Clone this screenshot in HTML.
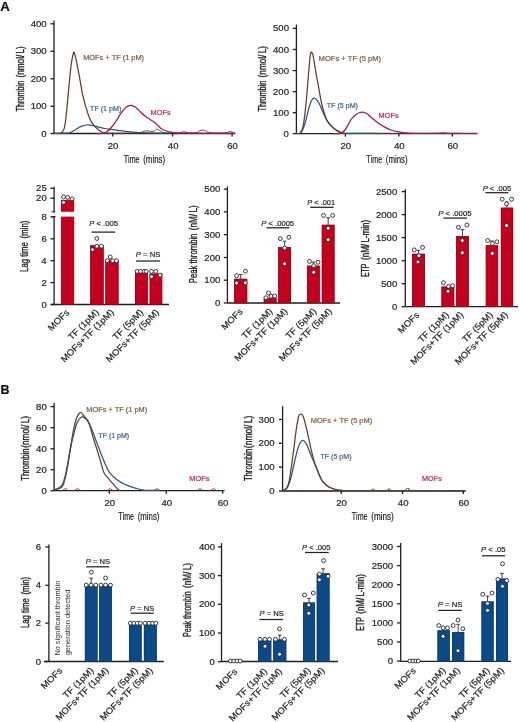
<!DOCTYPE html>
<html><head><meta charset="utf-8"><style>
html,body{margin:0;padding:0;background:#fff;}
svg{display:block;font-family:"Liberation Sans", sans-serif;font-kerning:none;will-change:transform;}
text{font-kerning:none;}
</style></head><body>
<svg width="520" height="722" viewBox="0 0 520 722">
<rect width="520" height="722" fill="#fff"/>
<text x="0.37" y="11.2" font-size="12.2" textLength="9.58" lengthAdjust="spacingAndGlyphs" fill="#111" stroke="#111" stroke-width="0.2" font-weight="bold">A</text>
<text x="0.47" y="393.8" font-size="12.4" textLength="9" lengthAdjust="spacingAndGlyphs" fill="#111" stroke="#111" stroke-width="0.2" font-weight="bold">B</text>
<line x1="54" y1="20.6" x2="54" y2="133.5" stroke="#1e1e1e" stroke-width="1.3"/>
<line x1="50.4" y1="23.8" x2="54" y2="23.8" stroke="#1e1e1e" stroke-width="1.3"/>
<text x="30.67" y="26.83" font-size="8.8" textLength="16" lengthAdjust="spacingAndGlyphs" fill="#231f20" stroke="#231f20" stroke-width="0.2">400</text>
<line x1="50.4" y1="51.3" x2="54" y2="51.3" stroke="#1e1e1e" stroke-width="1.3"/>
<text x="30.67" y="54.33" font-size="8.8" textLength="16" lengthAdjust="spacingAndGlyphs" fill="#231f20" stroke="#231f20" stroke-width="0.2">300</text>
<line x1="50.4" y1="78.8" x2="54" y2="78.8" stroke="#1e1e1e" stroke-width="1.3"/>
<text x="30.67" y="81.83" font-size="8.8" textLength="16" lengthAdjust="spacingAndGlyphs" fill="#231f20" stroke="#231f20" stroke-width="0.2">200</text>
<line x1="50.4" y1="106.3" x2="54" y2="106.3" stroke="#1e1e1e" stroke-width="1.3"/>
<text x="30.67" y="109.33" font-size="8.8" textLength="16" lengthAdjust="spacingAndGlyphs" fill="#231f20" stroke="#231f20" stroke-width="0.2">100</text>
<line x1="50.4" y1="133.5" x2="54" y2="133.5" stroke="#1e1e1e" stroke-width="1.3"/>
<text x="41.34" y="136.53" font-size="8.8" textLength="5.33" lengthAdjust="spacingAndGlyphs" fill="#231f20" stroke="#231f20" stroke-width="0.2">0</text>
<line x1="53.45" y1="133.5" x2="235" y2="133.5" stroke="#1e1e1e" stroke-width="1.3"/>
<line x1="112.7" y1="133.5" x2="112.7" y2="136.5" stroke="#1e1e1e" stroke-width="1.3"/>
<text x="107.81" y="148.8" font-size="8.8" textLength="10.67" lengthAdjust="spacingAndGlyphs" fill="#231f20" stroke="#231f20" stroke-width="0.2">20</text>
<line x1="172.6" y1="133.5" x2="172.6" y2="136.5" stroke="#1e1e1e" stroke-width="1.3"/>
<text x="167.84" y="148.8" font-size="8.8" textLength="10.67" lengthAdjust="spacingAndGlyphs" fill="#231f20" stroke="#231f20" stroke-width="0.2">40</text>
<line x1="232.1" y1="133.5" x2="232.1" y2="136.5" stroke="#1e1e1e" stroke-width="1.3"/>
<text x="227.21" y="148.8" font-size="8.8" textLength="10.67" lengthAdjust="spacingAndGlyphs" fill="#231f20" stroke="#231f20" stroke-width="0.2">60</text>
<text x="123.74" y="162.6" font-size="10" textLength="15.77" lengthAdjust="spacingAndGlyphs" fill="#231f20" stroke="#231f20" stroke-width="0.2">Time</text>
<text x="143.21" y="162.6" font-size="10" textLength="21.88" lengthAdjust="spacingAndGlyphs" fill="#231f20" stroke="#231f20" stroke-width="0.2">(mins)</text>
<text transform="translate(23.6 111.46) rotate(-90)" x="0" y="0" font-size="10.4" textLength="30.63" lengthAdjust="spacingAndGlyphs" fill="#231f20" stroke="#231f20" stroke-width="0.38">Thrombin</text>
<text transform="translate(23.6 77.4) rotate(-90)" x="0" y="0" font-size="10.4" textLength="31.21" lengthAdjust="spacingAndGlyphs" fill="#231f20" stroke="#231f20" stroke-width="0.38">(nmol/ L)</text>
<path d="M104 133.2 C106.67 133.2 114.67 133.23 120 133.2 C125.33 133.17 132.5 133.13 136 133 C139.5 132.87 139.67 132.7 141 132.4 C142.33 132.1 142.83 131.45 144 131.2 C145.17 130.95 146.83 130.83 148 130.9 C149.17 130.97 150 131.55 151 131.6 C152 131.65 153 131.6 154 131.2 C155 130.8 156 129.3 157 129.2 C158 129.1 158.83 130.03 160 130.6 C161.17 131.17 162 132.2 164 132.6 C166 133 169.33 132.97 172 133 C174.67 133.03 178 133.03 180 132.8 C182 132.57 182.67 131.6 184 131.6 C185.33 131.6 186 132.6 188 132.8 C190 133 194 133.17 196 132.8 C198 132.43 198.83 131.03 200 130.6 C201.17 130.17 202 130.17 203 130.2 C204 130.23 205 130.4 206 130.8 C207 131.2 207 132.23 209 132.6 C211 132.97 215.17 132.97 218 133 C220.83 133.03 224 133.05 226 132.8 C228 132.55 228.67 131.5 230 131.5 C231.33 131.5 233.33 132.58 234 132.8" fill="none" stroke="#5e4128" stroke-width="0.9" stroke-linejoin="round" stroke-linecap="round"/>
<path d="M54 133.4 C55.33 133.37 59.5 133.27 62 133.2 C64.5 133.13 66.98 133.45 69 133 C71.02 132.55 72.18 131.57 74.1 130.5 C76.02 129.43 78.37 127.52 80.5 126.6 C82.63 125.68 84.77 125.17 86.9 125 C89.03 124.83 91.18 125.22 93.3 125.6 C95.42 125.98 97.7 126.82 99.6 127.3 C101.5 127.78 102.72 128.15 104.7 128.5 C106.68 128.85 108.95 129.05 111.5 129.4 C114.05 129.75 116.92 130.2 120 130.6 C123.08 131 126.67 131.47 130 131.8 C133.33 132.13 136.67 132.4 140 132.6 C143.33 132.8 145.83 132.9 150 133 C154.17 133.1 162.5 133.17 165 133.2" fill="none" stroke="#2c527c" stroke-width="1.25" stroke-linejoin="round" stroke-linecap="round"/>
<path d="M60.7 133.2 C61.23 132.57 63.05 131.77 63.9 129.4 C64.75 127.03 65.15 124.13 65.8 119 C66.45 113.87 67.15 105.4 67.8 98.6 C68.45 91.8 69.12 83.95 69.7 78.2 C70.28 72.45 70.77 67.93 71.3 64.1 C71.83 60.27 72.47 57.18 72.9 55.2 C73.33 53.22 73.52 52.1 73.9 52.2 C74.28 52.3 74.63 53.6 75.2 55.8 C75.77 58 76.52 61.47 77.3 65.4 C78.08 69.33 79.05 74.72 79.9 79.4 C80.75 84.08 81.45 89.03 82.4 93.5 C83.35 97.97 84.43 102.17 85.6 106.2 C86.77 110.23 88.12 114.62 89.4 117.7 C90.68 120.78 91.8 122.68 93.3 124.7 C94.8 126.72 96.7 128.42 98.4 129.8 C100.1 131.18 102.65 132.47 103.5 133" fill="none" stroke="#5e4128" stroke-width="1.25" stroke-linejoin="round" stroke-linecap="round"/>
<path d="M97 133.5 C97.5 133.5 98.92 133.57 100 133.5 C101.08 133.43 102.5 133.32 103.5 133.1 C104.5 132.88 104.92 132.88 106 132.2 C107.08 131.52 108.33 130.82 110 129 C111.67 127.18 114.17 123.93 116 121.3 C117.83 118.67 119.33 115.55 121 113.2 C122.67 110.85 124.33 108.5 126 107.2 C127.67 105.9 129.42 105.4 131 105.4 C132.58 105.4 133.87 106.05 135.5 107.2 C137.13 108.35 139.22 110.83 140.8 112.3 C142.38 113.77 143.47 114.82 145 116 C146.53 117.18 148.33 118.27 150 119.4 C151.67 120.53 153.67 121.78 155 122.8 C156.33 123.82 157 124.55 158 125.5 C159 126.45 159.83 127.67 161 128.5 C162.17 129.33 163.67 129.95 165 130.5 C166.33 131.05 167.33 131.42 169 131.8 C170.67 132.18 172.33 132.57 175 132.8 C177.67 133.03 175 133.12 185 133.2 C195 133.28 226.67 133.28 235 133.3" fill="none" stroke="#a3173d" stroke-width="1.25" stroke-linejoin="round" stroke-linecap="round"/>
<text x="83.19" y="60.3" font-size="7.4" textLength="60.86" lengthAdjust="spacingAndGlyphs" fill="#7a5b3c" stroke="#7a5b3c" stroke-width="0.2">MOFs + TF (1 pM)</text>
<text x="90.04" y="110.7" font-size="7.4" textLength="31.3" lengthAdjust="spacingAndGlyphs" fill="#3b5f8a" stroke="#3b5f8a" stroke-width="0.2">TF (1 pM)</text>
<text x="150.6" y="115" font-size="7.4" textLength="19.97" lengthAdjust="spacingAndGlyphs" fill="#b3284b" stroke="#b3284b" stroke-width="0.2">MOFs</text>
<line x1="296.4" y1="24.6" x2="296.4" y2="133.6" stroke="#1e1e1e" stroke-width="1.3"/>
<line x1="292.8" y1="28.4" x2="296.4" y2="28.4" stroke="#1e1e1e" stroke-width="1.3"/>
<text x="272.97" y="31.43" font-size="8.8" textLength="16" lengthAdjust="spacingAndGlyphs" fill="#231f20" stroke="#231f20" stroke-width="0.2">500</text>
<line x1="292.8" y1="49.5" x2="296.4" y2="49.5" stroke="#1e1e1e" stroke-width="1.3"/>
<text x="272.97" y="52.53" font-size="8.8" textLength="16" lengthAdjust="spacingAndGlyphs" fill="#231f20" stroke="#231f20" stroke-width="0.2">400</text>
<line x1="292.8" y1="70.6" x2="296.4" y2="70.6" stroke="#1e1e1e" stroke-width="1.3"/>
<text x="272.97" y="73.63" font-size="8.8" textLength="16" lengthAdjust="spacingAndGlyphs" fill="#231f20" stroke="#231f20" stroke-width="0.2">300</text>
<line x1="292.8" y1="91.7" x2="296.4" y2="91.7" stroke="#1e1e1e" stroke-width="1.3"/>
<text x="272.97" y="94.73" font-size="8.8" textLength="16" lengthAdjust="spacingAndGlyphs" fill="#231f20" stroke="#231f20" stroke-width="0.2">200</text>
<line x1="292.8" y1="112.7" x2="296.4" y2="112.7" stroke="#1e1e1e" stroke-width="1.3"/>
<text x="272.97" y="115.73" font-size="8.8" textLength="16" lengthAdjust="spacingAndGlyphs" fill="#231f20" stroke="#231f20" stroke-width="0.2">100</text>
<line x1="292.8" y1="133.6" x2="296.4" y2="133.6" stroke="#1e1e1e" stroke-width="1.3"/>
<text x="283.64" y="136.63" font-size="8.8" textLength="5.33" lengthAdjust="spacingAndGlyphs" fill="#231f20" stroke="#231f20" stroke-width="0.2">0</text>
<line x1="295.85" y1="133.6" x2="477.3" y2="133.6" stroke="#1e1e1e" stroke-width="1.3"/>
<line x1="345.4" y1="133.6" x2="345.4" y2="136.6" stroke="#1e1e1e" stroke-width="1.3"/>
<text x="340.51" y="148.9" font-size="8.8" textLength="10.67" lengthAdjust="spacingAndGlyphs" fill="#231f20" stroke="#231f20" stroke-width="0.2">20</text>
<line x1="398.8" y1="133.6" x2="398.8" y2="136.6" stroke="#1e1e1e" stroke-width="1.3"/>
<text x="394.04" y="148.9" font-size="8.8" textLength="10.67" lengthAdjust="spacingAndGlyphs" fill="#231f20" stroke="#231f20" stroke-width="0.2">40</text>
<line x1="452.4" y1="133.6" x2="452.4" y2="136.6" stroke="#1e1e1e" stroke-width="1.3"/>
<text x="447.51" y="148.9" font-size="8.8" textLength="10.67" lengthAdjust="spacingAndGlyphs" fill="#231f20" stroke="#231f20" stroke-width="0.2">60</text>
<text x="366.34" y="162.8" font-size="10" textLength="15.77" lengthAdjust="spacingAndGlyphs" fill="#231f20" stroke="#231f20" stroke-width="0.2">Time</text>
<text x="385.81" y="162.8" font-size="10" textLength="21.77" lengthAdjust="spacingAndGlyphs" fill="#231f20" stroke="#231f20" stroke-width="0.2">(mins)</text>
<text transform="translate(265.5 111.56) rotate(-90)" x="0" y="0" font-size="10.4" textLength="30.74" lengthAdjust="spacingAndGlyphs" fill="#231f20" stroke="#231f20" stroke-width="0.38">Thrombin</text>
<text transform="translate(265.5 77.41) rotate(-90)" x="0" y="0" font-size="10.4" textLength="31.42" lengthAdjust="spacingAndGlyphs" fill="#231f20" stroke="#231f20" stroke-width="0.38">(nmol/ L)</text>
<path d="M340 133.4 C343.33 133.37 350 133.22 360 133.2 C370 133.18 390 133.27 400 133.3 C410 133.33 413.33 133.45 420 133.4 C426.67 133.35 436 133.18 440 133 C444 132.82 442.83 132.27 444 132.3 C445.17 132.33 444.33 133.03 447 133.2 C449.67 133.37 457.83 133.28 460 133.3" fill="none" stroke="#5e4128" stroke-width="0.9" stroke-linejoin="round" stroke-linecap="round"/>
<path d="M296.4 133.5 C297.12 133.42 299.45 134.15 300.7 133 C301.95 131.85 302.93 129.15 303.9 126.6 C304.87 124.05 305.65 120.88 306.5 117.7 C307.35 114.52 308.15 110.37 309 107.5 C309.85 104.63 310.75 102.05 311.6 100.5 C312.45 98.95 313.25 98.32 314.1 98.2 C314.95 98.08 315.73 98.67 316.7 99.8 C317.67 100.93 318.83 102.87 319.9 105 C320.97 107.13 321.93 110.05 323.1 112.6 C324.27 115.15 325.42 117.97 326.9 120.3 C328.38 122.63 330.3 124.9 332 126.6 C333.7 128.3 335.4 129.47 337.1 130.5 C338.8 131.53 340.05 132.32 342.2 132.8 C344.35 133.28 343.7 133.28 350 133.4 C356.3 133.52 375 133.48 380 133.5" fill="none" stroke="#2c527c" stroke-width="1.25" stroke-linejoin="round" stroke-linecap="round"/>
<path d="M300.1 133.2 C300.53 132.32 301.95 130.7 302.7 127.9 C303.45 125.1 303.97 121.28 304.6 116.4 C305.23 111.52 305.87 105.4 306.5 98.6 C307.13 91.8 307.87 81.98 308.4 75.6 C308.93 69.22 309.33 64.02 309.7 60.3 C310.07 56.58 310.28 54.62 310.6 53.3 C310.92 51.98 311.22 52.18 311.6 52.4 C311.98 52.62 312.48 53.07 312.9 54.6 C313.32 56.13 313.58 58.52 314.1 61.6 C314.62 64.68 315.25 68.85 316 73.1 C316.75 77.35 317.75 82.43 318.6 87.1 C319.45 91.77 320.25 97.07 321.1 101.1 C321.95 105.13 322.83 108.32 323.7 111.3 C324.57 114.28 325.35 116.87 326.3 119 C327.25 121.13 328.23 122.62 329.4 124.1 C330.57 125.58 331.8 126.63 333.3 127.9 C334.8 129.17 336.92 130.82 338.4 131.7 C339.88 132.58 341.57 132.95 342.2 133.2" fill="none" stroke="#5e4128" stroke-width="1.25" stroke-linejoin="round" stroke-linecap="round"/>
<path d="M334 133.6 C334.67 133.6 336.83 133.7 338 133.6 C339.17 133.5 339.83 133.6 341 133 C342.17 132.4 343.25 132.33 345 130 C346.75 127.67 349.67 121.58 351.5 119 C353.33 116.42 354.58 115.58 356 114.5 C357.42 113.42 358.83 112.88 360 112.5 C361.17 112.12 361.83 111.98 363 112.2 C364.17 112.42 365.67 112.97 367 113.8 C368.33 114.63 369.67 116.07 371 117.2 C372.33 118.33 373.5 119.43 375 120.6 C376.5 121.77 378.2 123.03 380 124.2 C381.8 125.37 383.97 126.63 385.8 127.6 C387.63 128.57 389.22 129.35 391 130 C392.78 130.65 394.17 131.03 396.5 131.5 C398.83 131.97 401.08 132.5 405 132.8 C408.92 133.1 408 133.2 420 133.3 C432 133.4 467.5 133.38 477 133.4" fill="none" stroke="#a3173d" stroke-width="1.25" stroke-linejoin="round" stroke-linecap="round"/>
<text x="318.58" y="60.6" font-size="7.4" textLength="62.49" lengthAdjust="spacingAndGlyphs" fill="#7a5b3c" stroke="#7a5b3c" stroke-width="0.2">MOFs + TF (5 pM)</text>
<text x="326.74" y="107.8" font-size="7.4" textLength="31.2" lengthAdjust="spacingAndGlyphs" fill="#3b5f8a" stroke="#3b5f8a" stroke-width="0.2">TF (5 pM)</text>
<text x="378.6" y="117.7" font-size="7.4" textLength="20.07" lengthAdjust="spacingAndGlyphs" fill="#b3284b" stroke="#b3284b" stroke-width="0.2">MOFs</text>
<line x1="54.1" y1="186.8" x2="54.1" y2="212.2" stroke="#1e1e1e" stroke-width="1.3"/>
<line x1="54.1" y1="216.3" x2="54.1" y2="304.5" stroke="#1e1e1e" stroke-width="1.3"/>
<line x1="51.6" y1="211.8" x2="55.2" y2="211.8" stroke="#1e1e1e" stroke-width="1.1"/>
<line x1="52" y1="216.7" x2="55.6" y2="216.7" stroke="#1e1e1e" stroke-width="1.1"/>
<line x1="50.9" y1="304.5" x2="169" y2="304.5" stroke="#1e1e1e" stroke-width="1.3"/>
<line x1="50.4" y1="188.3" x2="54.1" y2="188.3" stroke="#1e1e1e" stroke-width="1.3"/>
<text x="36.13" y="191.33" font-size="8.8" textLength="10.67" lengthAdjust="spacingAndGlyphs" fill="#231f20" stroke="#231f20" stroke-width="0.2">25</text>
<line x1="50.4" y1="198.2" x2="54.1" y2="198.2" stroke="#1e1e1e" stroke-width="1.3"/>
<text x="36.11" y="201.23" font-size="8.8" textLength="10.67" lengthAdjust="spacingAndGlyphs" fill="#231f20" stroke="#231f20" stroke-width="0.2">20</text>
<line x1="50.4" y1="216.9" x2="54.1" y2="216.9" stroke="#1e1e1e" stroke-width="1.3"/>
<text x="41.48" y="219.93" font-size="8.8" textLength="5.33" lengthAdjust="spacingAndGlyphs" fill="#231f20" stroke="#231f20" stroke-width="0.2">8</text>
<line x1="50.4" y1="238.8" x2="54.1" y2="238.8" stroke="#1e1e1e" stroke-width="1.3"/>
<text x="41.49" y="241.83" font-size="8.8" textLength="5.33" lengthAdjust="spacingAndGlyphs" fill="#231f20" stroke="#231f20" stroke-width="0.2">6</text>
<line x1="50.4" y1="260.7" x2="54.1" y2="260.7" stroke="#1e1e1e" stroke-width="1.3"/>
<text x="41.35" y="263.73" font-size="8.8" textLength="5.33" lengthAdjust="spacingAndGlyphs" fill="#231f20" stroke="#231f20" stroke-width="0.2">4</text>
<line x1="50.4" y1="282.6" x2="54.1" y2="282.6" stroke="#1e1e1e" stroke-width="1.3"/>
<text x="41.55" y="285.63" font-size="8.8" textLength="5.33" lengthAdjust="spacingAndGlyphs" fill="#231f20" stroke="#231f20" stroke-width="0.2">2</text>
<line x1="50.4" y1="304.5" x2="54.1" y2="304.5" stroke="#1e1e1e" stroke-width="1.3"/>
<text x="41.44" y="307.53" font-size="8.8" textLength="5.33" lengthAdjust="spacingAndGlyphs" fill="#231f20" stroke="#231f20" stroke-width="0.2">0</text>
<text transform="translate(28.4 271.94) rotate(-90)" x="0" y="0" font-size="10.3" textLength="29.78" lengthAdjust="spacingAndGlyphs" fill="#231f20" stroke="#231f20" stroke-width="0.38">Lag time</text>
<text transform="translate(28.4 238.49) rotate(-90)" x="0" y="0" font-size="10.3" textLength="17.87" lengthAdjust="spacingAndGlyphs" fill="#231f20" stroke="#231f20" stroke-width="0.38">(min)</text>
<rect x="61" y="199.9" width="13.2" height="11.9" fill="#c4001f"/>
<rect x="61" y="216.6" width="13.2" height="87.9" fill="#c4001f"/>
<circle cx="63.5" cy="196.9" r="1.95" fill="#fff" stroke="#262626" stroke-width="0.9"/>
<circle cx="67.6" cy="197.4" r="1.95" fill="#fff" stroke="#262626" stroke-width="0.9"/>
<circle cx="72.1" cy="198.9" r="1.95" fill="#fff" stroke="#262626" stroke-width="0.9"/>
<circle cx="63.5" cy="202.4" r="1.95" fill="#fff" stroke="#262626" stroke-width="0.9"/>
<rect x="90.3" y="245.3" width="13.3" height="59.2" fill="#c4001f"/>
<rect x="90.65" y="245.65" width="12.6" height="58.85" fill="none" stroke="#98001a" stroke-width="0.7"/>
<circle cx="96.9" cy="238.5" r="1.95" fill="#fff" stroke="#262626" stroke-width="0.9"/>
<circle cx="96.9" cy="246.2" r="1.95" fill="#fff" stroke="#262626" stroke-width="0.9"/>
<circle cx="101.4" cy="246.2" r="1.95" fill="#fff" stroke="#262626" stroke-width="0.9"/>
<circle cx="92.5" cy="249.6" r="1.95" fill="#fff" stroke="#262626" stroke-width="0.9"/>
<rect x="105.4" y="259.8" width="13.1" height="44.7" fill="#c4001f"/>
<rect x="105.75" y="260.15" width="12.4" height="44.35" fill="none" stroke="#98001a" stroke-width="0.7"/>
<circle cx="110.2" cy="256.9" r="1.95" fill="#fff" stroke="#262626" stroke-width="0.9"/>
<circle cx="107.3" cy="260.8" r="1.95" fill="#fff" stroke="#262626" stroke-width="0.9"/>
<circle cx="112.7" cy="260.8" r="1.95" fill="#fff" stroke="#262626" stroke-width="0.9"/>
<circle cx="116.4" cy="260.8" r="1.95" fill="#fff" stroke="#262626" stroke-width="0.9"/>
<rect x="135" y="271.6" width="12.8" height="32.9" fill="#c4001f"/>
<rect x="135.35" y="271.95" width="12.1" height="32.55" fill="none" stroke="#98001a" stroke-width="0.7"/>
<circle cx="137.1" cy="271.4" r="1.95" fill="#fff" stroke="#262626" stroke-width="0.9"/>
<circle cx="140.6" cy="271.4" r="1.95" fill="#fff" stroke="#262626" stroke-width="0.9"/>
<circle cx="144.1" cy="271.4" r="1.95" fill="#fff" stroke="#262626" stroke-width="0.9"/>
<circle cx="146.2" cy="271.4" r="1.95" fill="#fff" stroke="#262626" stroke-width="0.9"/>
<rect x="149.7" y="273.6" width="12.5" height="30.9" fill="#c4001f"/>
<rect x="150.05" y="273.95" width="11.8" height="30.55" fill="none" stroke="#98001a" stroke-width="0.7"/>
<circle cx="151.5" cy="271.4" r="1.95" fill="#fff" stroke="#262626" stroke-width="0.9"/>
<circle cx="155.8" cy="271.4" r="1.95" fill="#fff" stroke="#262626" stroke-width="0.9"/>
<circle cx="151.5" cy="276.6" r="1.95" fill="#fff" stroke="#262626" stroke-width="0.9"/>
<circle cx="160" cy="275.2" r="1.95" fill="#fff" stroke="#262626" stroke-width="0.9"/>
<text x="89.16" y="226.2" font-size="7.5" textLength="28.86" lengthAdjust="spacingAndGlyphs" fill="#231f20" stroke="#231f20" stroke-width="0.2"><tspan font-style="italic">P</tspan> &lt; .005</text>
<line x1="91.5" y1="232.1" x2="115.2" y2="232.1" stroke="#222" stroke-width="1.25"/>
<text x="135.87" y="257.2" font-size="7.5" textLength="24.38" lengthAdjust="spacingAndGlyphs" fill="#231f20" stroke="#231f20" stroke-width="0.2"><tspan font-style="italic">P</tspan> = NS</text>
<line x1="135.9" y1="261" x2="160.1" y2="261" stroke="#222" stroke-width="1.25"/>
<text transform="translate(51.42 331.38) rotate(-45)" x="0" y="0" font-size="8.9" textLength="25.92" lengthAdjust="spacingAndGlyphs" fill="#231f20" stroke="#231f20" stroke-width="0.2">MOFs</text>
<text transform="translate(71.74 340.56) rotate(-45)" x="0" y="0" font-size="8.9" textLength="39.15" lengthAdjust="spacingAndGlyphs" fill="#231f20" stroke="#231f20" stroke-width="0.2">TF (1pM)</text>
<text transform="translate(64.48 362.82) rotate(-45)" x="0" y="0" font-size="8.9" textLength="70.63" lengthAdjust="spacingAndGlyphs" fill="#231f20" stroke="#231f20" stroke-width="0.2">MOFs+TF (1pM)</text>
<text transform="translate(116.14 340.56) rotate(-45)" x="0" y="0" font-size="8.9" textLength="39.15" lengthAdjust="spacingAndGlyphs" fill="#231f20" stroke="#231f20" stroke-width="0.2">TF (5pM)</text>
<text transform="translate(109.58 362.82) rotate(-45)" x="0" y="0" font-size="8.9" textLength="70.63" lengthAdjust="spacingAndGlyphs" fill="#231f20" stroke="#231f20" stroke-width="0.2">MOFs+TF (5pM)</text>
<line x1="227.4" y1="186.5" x2="227.4" y2="303" stroke="#1e1e1e" stroke-width="1.3"/>
<line x1="223.8" y1="189.2" x2="227.4" y2="189.2" stroke="#1e1e1e" stroke-width="1.3"/>
<text x="204.37" y="192.23" font-size="8.8" textLength="16" lengthAdjust="spacingAndGlyphs" fill="#231f20" stroke="#231f20" stroke-width="0.2">500</text>
<line x1="223.8" y1="211.9" x2="227.4" y2="211.9" stroke="#1e1e1e" stroke-width="1.3"/>
<text x="204.37" y="214.93" font-size="8.8" textLength="16" lengthAdjust="spacingAndGlyphs" fill="#231f20" stroke="#231f20" stroke-width="0.2">400</text>
<line x1="223.8" y1="234.7" x2="227.4" y2="234.7" stroke="#1e1e1e" stroke-width="1.3"/>
<text x="204.37" y="237.73" font-size="8.8" textLength="16" lengthAdjust="spacingAndGlyphs" fill="#231f20" stroke="#231f20" stroke-width="0.2">300</text>
<line x1="223.8" y1="257.5" x2="227.4" y2="257.5" stroke="#1e1e1e" stroke-width="1.3"/>
<text x="204.37" y="260.53" font-size="8.8" textLength="16" lengthAdjust="spacingAndGlyphs" fill="#231f20" stroke="#231f20" stroke-width="0.2">200</text>
<line x1="223.8" y1="280.2" x2="227.4" y2="280.2" stroke="#1e1e1e" stroke-width="1.3"/>
<text x="204.37" y="283.23" font-size="8.8" textLength="16" lengthAdjust="spacingAndGlyphs" fill="#231f20" stroke="#231f20" stroke-width="0.2">100</text>
<line x1="223.8" y1="303" x2="227.4" y2="303" stroke="#1e1e1e" stroke-width="1.3"/>
<text x="215.04" y="306.03" font-size="8.8" textLength="5.33" lengthAdjust="spacingAndGlyphs" fill="#231f20" stroke="#231f20" stroke-width="0.2">0</text>
<line x1="227.4" y1="303" x2="340" y2="303" stroke="#1e1e1e" stroke-width="1.3"/>
<text transform="translate(197.1 283.23) rotate(-90)" x="0" y="0" font-size="10.2" textLength="49.63" lengthAdjust="spacingAndGlyphs" fill="#231f20" stroke="#231f20" stroke-width="0.38">Peak thrombin</text>
<text transform="translate(197.1 230.21) rotate(-90)" x="0" y="0" font-size="10.2" textLength="24.91" lengthAdjust="spacingAndGlyphs" fill="#231f20" stroke="#231f20" stroke-width="0.38">(nM/ L)</text>
<rect x="234.2" y="278.8" width="13" height="24.2" fill="#c4001f"/>
<rect x="234.55" y="279.15" width="12.3" height="23.85" fill="none" stroke="#98001a" stroke-width="0.7"/>
<line x1="240.7" y1="278.8" x2="240.7" y2="274.6" stroke="#2e2e2e" stroke-width="0.9"/>
<line x1="238.8" y1="274.6" x2="242.6" y2="274.6" stroke="#2e2e2e" stroke-width="0.9"/>
<circle cx="236.6" cy="275.7" r="1.95" fill="#fff" stroke="#262626" stroke-width="0.9"/>
<circle cx="245.4" cy="271.2" r="1.95" fill="#fff" stroke="#262626" stroke-width="0.9"/>
<circle cx="236.6" cy="283" r="1.95" fill="#fff" stroke="#262626" stroke-width="0.9"/>
<circle cx="245.4" cy="282.8" r="1.95" fill="#fff" stroke="#262626" stroke-width="0.9"/>
<rect x="263.8" y="298.3" width="12.7" height="4.7" fill="#c4001f"/>
<rect x="264.15" y="298.65" width="12" height="4.35" fill="none" stroke="#98001a" stroke-width="0.7"/>
<circle cx="268.5" cy="293" r="1.95" fill="#fff" stroke="#262626" stroke-width="0.9"/>
<circle cx="265.9" cy="297.7" r="1.95" fill="#fff" stroke="#262626" stroke-width="0.9"/>
<circle cx="271.1" cy="296.2" r="1.95" fill="#fff" stroke="#262626" stroke-width="0.9"/>
<circle cx="274.7" cy="296" r="1.95" fill="#fff" stroke="#262626" stroke-width="0.9"/>
<rect x="278.2" y="247.2" width="12.8" height="55.8" fill="#c4001f"/>
<rect x="278.55" y="247.55" width="12.1" height="55.45" fill="none" stroke="#98001a" stroke-width="0.7"/>
<line x1="284.6" y1="247.2" x2="284.6" y2="241.2" stroke="#2e2e2e" stroke-width="0.9"/>
<line x1="282.7" y1="241.2" x2="286.5" y2="241.2" stroke="#2e2e2e" stroke-width="0.9"/>
<circle cx="280.3" cy="238.6" r="1.95" fill="#fff" stroke="#262626" stroke-width="0.9"/>
<circle cx="288.9" cy="237.3" r="1.95" fill="#fff" stroke="#262626" stroke-width="0.9"/>
<circle cx="284.6" cy="248" r="1.95" fill="#fff" stroke="#262626" stroke-width="0.9"/>
<circle cx="284.6" cy="263.7" r="1.95" fill="#fff" stroke="#262626" stroke-width="0.9"/>
<rect x="307.1" y="265.7" width="12.6" height="37.3" fill="#c4001f"/>
<rect x="307.45" y="266.05" width="11.9" height="36.95" fill="none" stroke="#98001a" stroke-width="0.7"/>
<line x1="313.4" y1="265.7" x2="313.4" y2="262" stroke="#2e2e2e" stroke-width="0.9"/>
<line x1="311.5" y1="262" x2="315.3" y2="262" stroke="#2e2e2e" stroke-width="0.9"/>
<circle cx="309.4" cy="261.4" r="1.95" fill="#fff" stroke="#262626" stroke-width="0.9"/>
<circle cx="318" cy="262.3" r="1.95" fill="#fff" stroke="#262626" stroke-width="0.9"/>
<circle cx="313.7" cy="265.7" r="1.95" fill="#fff" stroke="#262626" stroke-width="0.9"/>
<circle cx="313.7" cy="272.3" r="1.95" fill="#fff" stroke="#262626" stroke-width="0.9"/>
<rect x="321.8" y="224.8" width="12.7" height="78.2" fill="#c4001f"/>
<rect x="322.15" y="225.15" width="12" height="77.85" fill="none" stroke="#98001a" stroke-width="0.7"/>
<line x1="328.15" y1="224.8" x2="328.15" y2="217.7" stroke="#2e2e2e" stroke-width="0.9"/>
<line x1="326.25" y1="217.7" x2="330.05" y2="217.7" stroke="#2e2e2e" stroke-width="0.9"/>
<circle cx="323.5" cy="215.4" r="1.95" fill="#fff" stroke="#262626" stroke-width="0.9"/>
<circle cx="332.7" cy="215.4" r="1.95" fill="#fff" stroke="#262626" stroke-width="0.9"/>
<circle cx="328.2" cy="228.2" r="1.95" fill="#fff" stroke="#262626" stroke-width="0.9"/>
<circle cx="328.2" cy="239.8" r="1.95" fill="#fff" stroke="#262626" stroke-width="0.9"/>
<text x="261.27" y="225.9" font-size="7.5" textLength="32.85" lengthAdjust="spacingAndGlyphs" fill="#231f20" stroke="#231f20" stroke-width="0.2"><tspan font-style="italic">P</tspan> &lt; .0005</text>
<line x1="266.4" y1="227.8" x2="289.5" y2="227.8" stroke="#222" stroke-width="1.25"/>
<text x="307.37" y="204.7" font-size="7.5" textLength="27.69" lengthAdjust="spacingAndGlyphs" fill="#231f20" stroke="#231f20" stroke-width="0.2"><tspan font-style="italic">P</tspan> &lt; .001</text>
<line x1="310.2" y1="207.3" x2="333.6" y2="207.3" stroke="#222" stroke-width="1.25"/>
<text transform="translate(224.92 330.38) rotate(-45)" x="0" y="0" font-size="8.9" textLength="25.92" lengthAdjust="spacingAndGlyphs" fill="#231f20" stroke="#231f20" stroke-width="0.2">MOFs</text>
<text transform="translate(245.34 339.56) rotate(-45)" x="0" y="0" font-size="8.9" textLength="39.15" lengthAdjust="spacingAndGlyphs" fill="#231f20" stroke="#231f20" stroke-width="0.2">TF (1pM)</text>
<text transform="translate(238.08 361.82) rotate(-45)" x="0" y="0" font-size="8.9" textLength="70.63" lengthAdjust="spacingAndGlyphs" fill="#231f20" stroke="#231f20" stroke-width="0.2">MOFs+TF (1pM)</text>
<text transform="translate(289.24 339.56) rotate(-45)" x="0" y="0" font-size="8.9" textLength="39.15" lengthAdjust="spacingAndGlyphs" fill="#231f20" stroke="#231f20" stroke-width="0.2">TF (5pM)</text>
<text transform="translate(282.48 361.82) rotate(-45)" x="0" y="0" font-size="8.9" textLength="70.63" lengthAdjust="spacingAndGlyphs" fill="#231f20" stroke="#231f20" stroke-width="0.2">MOFs+TF (5pM)</text>
<line x1="405.3" y1="189.2" x2="405.3" y2="306.7" stroke="#1e1e1e" stroke-width="1.3"/>
<line x1="401.7" y1="191.6" x2="405.3" y2="191.6" stroke="#1e1e1e" stroke-width="1.3"/>
<text x="375.94" y="194.63" font-size="8.8" textLength="21.34" lengthAdjust="spacingAndGlyphs" fill="#231f20" stroke="#231f20" stroke-width="0.2">2500</text>
<line x1="401.7" y1="214.6" x2="405.3" y2="214.6" stroke="#1e1e1e" stroke-width="1.3"/>
<text x="375.94" y="217.63" font-size="8.8" textLength="21.34" lengthAdjust="spacingAndGlyphs" fill="#231f20" stroke="#231f20" stroke-width="0.2">2000</text>
<line x1="401.7" y1="237.6" x2="405.3" y2="237.6" stroke="#1e1e1e" stroke-width="1.3"/>
<text x="375.94" y="240.63" font-size="8.8" textLength="21.34" lengthAdjust="spacingAndGlyphs" fill="#231f20" stroke="#231f20" stroke-width="0.2">1500</text>
<line x1="401.7" y1="260.7" x2="405.3" y2="260.7" stroke="#1e1e1e" stroke-width="1.3"/>
<text x="375.94" y="263.73" font-size="8.8" textLength="21.34" lengthAdjust="spacingAndGlyphs" fill="#231f20" stroke="#231f20" stroke-width="0.2">1000</text>
<line x1="401.7" y1="283.7" x2="405.3" y2="283.7" stroke="#1e1e1e" stroke-width="1.3"/>
<text x="381.27" y="286.73" font-size="8.8" textLength="16" lengthAdjust="spacingAndGlyphs" fill="#231f20" stroke="#231f20" stroke-width="0.2">500</text>
<line x1="401.7" y1="306.7" x2="405.3" y2="306.7" stroke="#1e1e1e" stroke-width="1.3"/>
<text x="391.94" y="309.73" font-size="8.8" textLength="5.33" lengthAdjust="spacingAndGlyphs" fill="#231f20" stroke="#231f20" stroke-width="0.2">0</text>
<line x1="405.3" y1="306.7" x2="518" y2="306.7" stroke="#1e1e1e" stroke-width="1.3"/>
<text transform="translate(368.6 277.07) rotate(-90)" x="0" y="0" font-size="10.2" textLength="13.43" lengthAdjust="spacingAndGlyphs" fill="#231f20" stroke="#231f20" stroke-width="0.38">ETP</text>
<text transform="translate(368.6 259.9) rotate(-90)" x="0" y="0" font-size="10.2" textLength="39.99" lengthAdjust="spacingAndGlyphs" fill="#231f20" stroke="#231f20" stroke-width="0.38">(nM/ L-min)</text>
<rect x="412" y="253.8" width="12.9" height="52.9" fill="#c4001f"/>
<rect x="412.35" y="254.15" width="12.2" height="52.55" fill="none" stroke="#98001a" stroke-width="0.7"/>
<line x1="418.45" y1="253.8" x2="418.45" y2="250.4" stroke="#2e2e2e" stroke-width="0.9"/>
<line x1="416.55" y1="250.4" x2="420.35" y2="250.4" stroke="#2e2e2e" stroke-width="0.9"/>
<circle cx="414.3" cy="249.9" r="1.95" fill="#fff" stroke="#262626" stroke-width="0.9"/>
<circle cx="422.6" cy="247.4" r="1.95" fill="#fff" stroke="#262626" stroke-width="0.9"/>
<circle cx="418.9" cy="255.7" r="1.95" fill="#fff" stroke="#262626" stroke-width="0.9"/>
<circle cx="418" cy="261.9" r="1.95" fill="#fff" stroke="#262626" stroke-width="0.9"/>
<rect x="441.5" y="286.6" width="12.7" height="20.1" fill="#c4001f"/>
<rect x="441.85" y="286.95" width="12" height="19.75" fill="none" stroke="#98001a" stroke-width="0.7"/>
<circle cx="443.4" cy="282.7" r="1.95" fill="#fff" stroke="#262626" stroke-width="0.9"/>
<circle cx="448.5" cy="286.4" r="1.95" fill="#fff" stroke="#262626" stroke-width="0.9"/>
<circle cx="452.6" cy="285.7" r="1.95" fill="#fff" stroke="#262626" stroke-width="0.9"/>
<circle cx="448" cy="291.2" r="1.95" fill="#fff" stroke="#262626" stroke-width="0.9"/>
<rect x="456.1" y="236.1" width="12.7" height="70.6" fill="#c4001f"/>
<rect x="456.45" y="236.45" width="12" height="70.25" fill="none" stroke="#98001a" stroke-width="0.7"/>
<line x1="462.45" y1="236.1" x2="462.45" y2="229.6" stroke="#2e2e2e" stroke-width="0.9"/>
<line x1="460.55" y1="229.6" x2="464.35" y2="229.6" stroke="#2e2e2e" stroke-width="0.9"/>
<circle cx="458.4" cy="227.3" r="1.95" fill="#fff" stroke="#262626" stroke-width="0.9"/>
<circle cx="466.9" cy="225" r="1.95" fill="#fff" stroke="#262626" stroke-width="0.9"/>
<circle cx="462.3" cy="240.5" r="1.95" fill="#fff" stroke="#262626" stroke-width="0.9"/>
<circle cx="462.3" cy="252.7" r="1.95" fill="#fff" stroke="#262626" stroke-width="0.9"/>
<rect x="485.8" y="245.3" width="12.3" height="61.4" fill="#c4001f"/>
<rect x="486.15" y="245.65" width="11.6" height="61.05" fill="none" stroke="#98001a" stroke-width="0.7"/>
<line x1="491.95" y1="245.3" x2="491.95" y2="241" stroke="#2e2e2e" stroke-width="0.9"/>
<line x1="490.05" y1="241" x2="493.85" y2="241" stroke="#2e2e2e" stroke-width="0.9"/>
<circle cx="487.7" cy="240.5" r="1.95" fill="#fff" stroke="#262626" stroke-width="0.9"/>
<circle cx="496.9" cy="241.8" r="1.95" fill="#fff" stroke="#262626" stroke-width="0.9"/>
<circle cx="492.3" cy="243.5" r="1.95" fill="#fff" stroke="#262626" stroke-width="0.9"/>
<circle cx="492.3" cy="253.4" r="1.95" fill="#fff" stroke="#262626" stroke-width="0.9"/>
<rect x="500.9" y="207.7" width="12.2" height="99" fill="#c4001f"/>
<rect x="501.25" y="208.05" width="11.5" height="98.65" fill="none" stroke="#98001a" stroke-width="0.7"/>
<line x1="507" y1="207.7" x2="507" y2="202" stroke="#2e2e2e" stroke-width="0.9"/>
<line x1="505.1" y1="202" x2="508.9" y2="202" stroke="#2e2e2e" stroke-width="0.9"/>
<circle cx="502.2" cy="199.2" r="1.95" fill="#fff" stroke="#262626" stroke-width="0.9"/>
<circle cx="511.5" cy="199.2" r="1.95" fill="#fff" stroke="#262626" stroke-width="0.9"/>
<circle cx="506.6" cy="203.8" r="1.95" fill="#fff" stroke="#262626" stroke-width="0.9"/>
<circle cx="506.6" cy="225.5" r="1.95" fill="#fff" stroke="#262626" stroke-width="0.9"/>
<text x="438.16" y="216" font-size="7.5" textLength="33.36" lengthAdjust="spacingAndGlyphs" fill="#231f20" stroke="#231f20" stroke-width="0.2"><tspan font-style="italic">P</tspan> &lt; .0005</text>
<line x1="443.4" y1="218.1" x2="466.9" y2="218.1" stroke="#222" stroke-width="1.25"/>
<text x="482.67" y="190.6" font-size="7.5" textLength="28.55" lengthAdjust="spacingAndGlyphs" fill="#231f20" stroke="#231f20" stroke-width="0.2"><tspan font-style="italic">P</tspan> &lt; .005</text>
<line x1="485.4" y1="192.7" x2="508.5" y2="192.7" stroke="#222" stroke-width="1.25"/>
<text transform="translate(401.42 333.88) rotate(-45)" x="0" y="0" font-size="8.9" textLength="25.92" lengthAdjust="spacingAndGlyphs" fill="#231f20" stroke="#231f20" stroke-width="0.2">MOFs</text>
<text transform="translate(421.74 343.06) rotate(-45)" x="0" y="0" font-size="8.9" textLength="39.15" lengthAdjust="spacingAndGlyphs" fill="#231f20" stroke="#231f20" stroke-width="0.2">TF (1pM)</text>
<text transform="translate(413.98 365.32) rotate(-45)" x="0" y="0" font-size="8.9" textLength="70.63" lengthAdjust="spacingAndGlyphs" fill="#231f20" stroke="#231f20" stroke-width="0.2">MOFs+TF (1pM)</text>
<text transform="translate(465.74 343.06) rotate(-45)" x="0" y="0" font-size="8.9" textLength="39.15" lengthAdjust="spacingAndGlyphs" fill="#231f20" stroke="#231f20" stroke-width="0.2">TF (5pM)</text>
<text transform="translate(458.48 365.32) rotate(-45)" x="0" y="0" font-size="8.9" textLength="70.63" lengthAdjust="spacingAndGlyphs" fill="#231f20" stroke="#231f20" stroke-width="0.2">MOFs+TF (5pM)</text>
<line x1="54.1" y1="403.1" x2="54.1" y2="490.7" stroke="#1e1e1e" stroke-width="1.3"/>
<line x1="50.5" y1="406.6" x2="54.1" y2="406.6" stroke="#1e1e1e" stroke-width="1.3"/>
<text x="36.11" y="409.63" font-size="8.8" textLength="10.67" lengthAdjust="spacingAndGlyphs" fill="#231f20" stroke="#231f20" stroke-width="0.2">80</text>
<line x1="50.5" y1="427.7" x2="54.1" y2="427.7" stroke="#1e1e1e" stroke-width="1.3"/>
<text x="36.11" y="430.73" font-size="8.8" textLength="10.67" lengthAdjust="spacingAndGlyphs" fill="#231f20" stroke="#231f20" stroke-width="0.2">60</text>
<line x1="50.5" y1="448.8" x2="54.1" y2="448.8" stroke="#1e1e1e" stroke-width="1.3"/>
<text x="36.11" y="451.83" font-size="8.8" textLength="10.67" lengthAdjust="spacingAndGlyphs" fill="#231f20" stroke="#231f20" stroke-width="0.2">40</text>
<line x1="50.5" y1="469.7" x2="54.1" y2="469.7" stroke="#1e1e1e" stroke-width="1.3"/>
<text x="36.11" y="472.73" font-size="8.8" textLength="10.67" lengthAdjust="spacingAndGlyphs" fill="#231f20" stroke="#231f20" stroke-width="0.2">20</text>
<line x1="50.5" y1="490.7" x2="54.1" y2="490.7" stroke="#1e1e1e" stroke-width="1.3"/>
<text x="41.44" y="493.73" font-size="8.8" textLength="5.33" lengthAdjust="spacingAndGlyphs" fill="#231f20" stroke="#231f20" stroke-width="0.2">0</text>
<line x1="53.55" y1="490.7" x2="224.6" y2="490.7" stroke="#1e1e1e" stroke-width="1.3"/>
<line x1="109.3" y1="490.7" x2="109.3" y2="493.7" stroke="#1e1e1e" stroke-width="1.3"/>
<text x="104.41" y="506.1" font-size="8.8" textLength="10.67" lengthAdjust="spacingAndGlyphs" fill="#231f20" stroke="#231f20" stroke-width="0.2">20</text>
<line x1="166.3" y1="490.7" x2="166.3" y2="493.7" stroke="#1e1e1e" stroke-width="1.3"/>
<text x="161.54" y="506.1" font-size="8.8" textLength="10.67" lengthAdjust="spacingAndGlyphs" fill="#231f20" stroke="#231f20" stroke-width="0.2">40</text>
<line x1="222.6" y1="490.7" x2="222.6" y2="493.7" stroke="#1e1e1e" stroke-width="1.3"/>
<text x="217.71" y="506.1" font-size="8.8" textLength="10.67" lengthAdjust="spacingAndGlyphs" fill="#231f20" stroke="#231f20" stroke-width="0.2">60</text>
<text x="118.34" y="520" font-size="10" textLength="15.67" lengthAdjust="spacingAndGlyphs" fill="#231f20" stroke="#231f20" stroke-width="0.2">Time</text>
<text x="137.71" y="520" font-size="10" textLength="21.77" lengthAdjust="spacingAndGlyphs" fill="#231f20" stroke="#231f20" stroke-width="0.2">(mins)</text>
<text transform="translate(28.6 480.77) rotate(-90)" x="0" y="0" font-size="10.4" textLength="32.27" lengthAdjust="spacingAndGlyphs" fill="#231f20" stroke="#231f20" stroke-width="0.38">Thrombin</text>
<text transform="translate(28.6 447.81) rotate(-90)" x="0" y="0" font-size="10.4" textLength="31.83" lengthAdjust="spacingAndGlyphs" fill="#231f20" stroke="#231f20" stroke-width="0.38">(nmol/ L)</text>
<path d="M62.5 490.5 C62.8 490.3 63.8 489.62 64.3 489.3 C64.8 488.98 65.1 488.6 65.5 488.6 C65.9 488.6 66.2 488.98 66.7 489.3 C67.2 489.62 68.2 490.3 68.5 490.5" fill="none" stroke="#a3173d" stroke-width="0.9" stroke-linejoin="round" stroke-linecap="round"/>
<path d="M74.5 490.5 C74.8 490.3 75.8 489.62 76.3 489.3 C76.8 488.98 77.1 488.6 77.5 488.6 C77.9 488.6 78.2 488.98 78.7 489.3 C79.2 489.62 80.2 490.3 80.5 490.5" fill="none" stroke="#a3173d" stroke-width="0.9" stroke-linejoin="round" stroke-linecap="round"/>
<path d="M107 490.5 C107.3 490.3 108.3 489.62 108.8 489.3 C109.3 488.98 109.6 488.6 110 488.6 C110.4 488.6 110.7 488.98 111.2 489.3 C111.7 489.62 112.7 490.3 113 490.5" fill="none" stroke="#a3173d" stroke-width="0.9" stroke-linejoin="round" stroke-linecap="round"/>
<path d="M154 490.5 C154.3 490.3 155.3 489.62 155.8 489.3 C156.3 488.98 156.6 488.6 157 488.6 C157.4 488.6 157.7 488.98 158.2 489.3 C158.7 489.62 159.7 490.3 160 490.5" fill="none" stroke="#a3173d" stroke-width="0.9" stroke-linejoin="round" stroke-linecap="round"/>
<path d="M197 490.5 C197.3 490.3 198.3 489.62 198.8 489.3 C199.3 488.98 199.6 488.6 200 488.6 C200.4 488.6 200.7 488.98 201.2 489.3 C201.7 489.62 202.7 490.3 203 490.5" fill="none" stroke="#a3173d" stroke-width="0.9" stroke-linejoin="round" stroke-linecap="round"/>
<path d="M210.5 490.5 C210.8 490.3 211.8 489.62 212.3 489.3 C212.8 488.98 213.1 488.6 213.5 488.6 C213.9 488.6 214.2 488.98 214.7 489.3 C215.2 489.62 216.2 490.3 216.5 490.5" fill="none" stroke="#a3173d" stroke-width="0.9" stroke-linejoin="round" stroke-linecap="round"/>
<path d="M54.5 489.8 C55.33 489.58 58.15 489.13 59.5 488.5 C60.85 487.87 61.67 487.65 62.6 486 C63.53 484.35 64.27 481.92 65.1 478.6 C65.93 475.28 66.77 470.68 67.6 466.1 C68.43 461.52 69.27 455.67 70.1 451.1 C70.93 446.53 71.77 442.43 72.6 438.7 C73.43 434.97 74.27 431.52 75.1 428.7 C75.93 425.88 76.77 423.57 77.6 421.8 C78.43 420.03 79.28 418.93 80.1 418.1 C80.92 417.27 81.57 416.7 82.5 416.8 C83.43 416.9 84.75 417.87 85.7 418.7 C86.65 419.53 87.37 420.45 88.2 421.8 C89.03 423.15 89.67 424.4 90.7 426.8 C91.73 429.2 93.17 432.98 94.4 436.2 C95.63 439.42 96.85 442.78 98.1 446.1 C99.35 449.42 100.65 452.97 101.9 456.1 C103.15 459.23 104.35 462.2 105.6 464.9 C106.85 467.6 108.08 470.32 109.4 472.3 C110.72 474.28 112.07 475.42 113.5 476.8 C114.93 478.18 116.4 479.48 118 480.6 C119.6 481.72 121.43 482.67 123.1 483.5 C124.77 484.33 126.4 484.98 128 485.6 C129.6 486.22 131.2 486.72 132.7 487.2 C134.2 487.68 135.4 488.07 137 488.5 C138.6 488.93 140.47 489.48 142.3 489.8 C144.13 490.12 145.05 490.28 148 490.4 C150.95 490.52 158 490.48 160 490.5" fill="none" stroke="#2c527c" stroke-width="1.25" stroke-linejoin="round" stroke-linecap="round"/>
<path d="M54.5 489.8 C55.12 489.55 57.05 488.93 58.2 488.3 C59.35 487.67 60.47 487.2 61.4 486 C62.33 484.8 62.98 483.58 63.8 481.1 C64.62 478.62 65.47 475.05 66.3 471.1 C67.13 467.15 67.97 462.18 68.8 457.4 C69.63 452.62 70.47 447.18 71.3 442.4 C72.13 437.62 72.97 432.65 73.8 428.7 C74.63 424.75 75.47 421.15 76.3 418.7 C77.13 416.25 78.02 415.03 78.8 414 C79.58 412.97 80.27 412.33 81 412.5 C81.73 412.67 82.42 414.07 83.2 415 C83.98 415.93 84.87 417.07 85.7 418.1 C86.53 419.13 87.37 419.43 88.2 421.2 C89.03 422.97 89.88 426 90.7 428.7 C91.52 431.4 92.17 434.28 93.1 437.4 C94.03 440.52 95.25 444.07 96.3 447.4 C97.35 450.73 98.47 454.28 99.4 457.4 C100.33 460.52 101.18 463.62 101.9 466.1 C102.62 468.58 102.87 470.53 103.7 472.3 C104.53 474.07 105.75 475.23 106.9 476.7 C108.05 478.17 109.5 479.82 110.6 481.1 C111.7 482.38 112.22 482.95 113.5 484.4 C114.78 485.85 117.22 488.82 118.3 489.8 C119.38 490.78 119.72 490.22 120 490.3" fill="none" stroke="#5e4128" stroke-width="1.25" stroke-linejoin="round" stroke-linecap="round"/>
<text x="86.29" y="411.5" font-size="7.4" textLength="60.86" lengthAdjust="spacingAndGlyphs" fill="#7a5b3c" stroke="#7a5b3c" stroke-width="0.2">MOFs + TF (1 pM)</text>
<text x="98.34" y="438.2" font-size="7.4" textLength="30.89" lengthAdjust="spacingAndGlyphs" fill="#3b5f8a" stroke="#3b5f8a" stroke-width="0.2">TF (1 pM)</text>
<text x="189.19" y="481.4" font-size="6.9" textLength="20.28" lengthAdjust="spacingAndGlyphs" fill="#b3284b" stroke="#b3284b" stroke-width="0.2">MOFs</text>
<line x1="282.6" y1="406.2" x2="282.6" y2="491" stroke="#1e1e1e" stroke-width="1.3"/>
<line x1="279" y1="419.5" x2="282.6" y2="419.5" stroke="#1e1e1e" stroke-width="1.3"/>
<text x="258.57" y="422.53" font-size="8.8" textLength="16" lengthAdjust="spacingAndGlyphs" fill="#231f20" stroke="#231f20" stroke-width="0.2">300</text>
<line x1="279" y1="443.3" x2="282.6" y2="443.3" stroke="#1e1e1e" stroke-width="1.3"/>
<text x="258.57" y="446.33" font-size="8.8" textLength="16" lengthAdjust="spacingAndGlyphs" fill="#231f20" stroke="#231f20" stroke-width="0.2">200</text>
<line x1="279" y1="467.1" x2="282.6" y2="467.1" stroke="#1e1e1e" stroke-width="1.3"/>
<text x="258.57" y="470.13" font-size="8.8" textLength="16" lengthAdjust="spacingAndGlyphs" fill="#231f20" stroke="#231f20" stroke-width="0.2">100</text>
<line x1="279" y1="491" x2="282.6" y2="491" stroke="#1e1e1e" stroke-width="1.3"/>
<text x="269.24" y="494.03" font-size="8.8" textLength="5.33" lengthAdjust="spacingAndGlyphs" fill="#231f20" stroke="#231f20" stroke-width="0.2">0</text>
<line x1="282.05" y1="491" x2="465.6" y2="491" stroke="#1e1e1e" stroke-width="1.3"/>
<line x1="341.2" y1="491" x2="341.2" y2="494" stroke="#1e1e1e" stroke-width="1.3"/>
<text x="336.31" y="506.1" font-size="8.8" textLength="10.67" lengthAdjust="spacingAndGlyphs" fill="#231f20" stroke="#231f20" stroke-width="0.2">20</text>
<line x1="402.6" y1="491" x2="402.6" y2="494" stroke="#1e1e1e" stroke-width="1.3"/>
<text x="397.84" y="506.1" font-size="8.8" textLength="10.67" lengthAdjust="spacingAndGlyphs" fill="#231f20" stroke="#231f20" stroke-width="0.2">40</text>
<line x1="463.3" y1="491" x2="463.3" y2="494" stroke="#1e1e1e" stroke-width="1.3"/>
<text x="458.41" y="506.1" font-size="8.8" textLength="10.67" lengthAdjust="spacingAndGlyphs" fill="#231f20" stroke="#231f20" stroke-width="0.2">60</text>
<text x="351.74" y="520.2" font-size="10" textLength="15.77" lengthAdjust="spacingAndGlyphs" fill="#231f20" stroke="#231f20" stroke-width="0.2">Time</text>
<text x="371.2" y="520.2" font-size="10" textLength="22.61" lengthAdjust="spacingAndGlyphs" fill="#231f20" stroke="#231f20" stroke-width="0.2">(mins)</text>
<text transform="translate(252.1 481.07) rotate(-90)" x="0" y="0" font-size="10.4" textLength="32.27" lengthAdjust="spacingAndGlyphs" fill="#231f20" stroke="#231f20" stroke-width="0.38">Thrombin</text>
<text transform="translate(252.1 448.13) rotate(-90)" x="0" y="0" font-size="10.4" textLength="32.55" lengthAdjust="spacingAndGlyphs" fill="#231f20" stroke="#231f20" stroke-width="0.38">(nmol/ L)</text>
<path d="M282.6 490.7 C292.17 490.68 327.1 490.63 340 490.6 C352.9 490.57 354.83 490.55 360 490.5 C365.17 490.45 368.83 490.62 371 490.3 C373.17 489.98 372.33 488.6 373 488.6 C373.67 488.6 372.67 490.02 375 490.3 C377.33 490.58 384.67 490.62 387 490.3 C389.33 489.98 388.33 488.4 389 488.4 C389.67 488.4 388.5 489.98 391 490.3 C393.5 490.62 401.42 490.57 404 490.3 C406.58 490.03 405.67 489 406.5 488.7 C407.33 488.4 408.17 488.23 409 488.5 C409.83 488.77 406.33 489.97 411.5 490.3 C416.67 490.63 431.08 490.47 440 490.5 C448.92 490.53 460.83 490.5 465 490.5" fill="none" stroke="#5e4128" stroke-width="0.9" stroke-linejoin="round" stroke-linecap="round"/>
<path d="M283.7 490.4 C284.33 489.88 286.45 488.85 287.5 487.3 C288.55 485.75 289.17 483.8 290 481.1 C290.83 478.4 291.67 474.63 292.5 471.1 C293.33 467.57 294.17 463.43 295 459.9 C295.83 456.37 296.67 452.72 297.5 449.9 C298.33 447.08 299.18 444.6 300 443 C300.82 441.4 301.58 440.5 302.4 440.3 C303.22 440.1 304.07 440.83 304.9 441.8 C305.73 442.77 306.57 444.33 307.4 446.1 C308.23 447.87 309.07 450.32 309.9 452.4 C310.73 454.48 311.57 456.63 312.4 458.6 C313.23 460.57 313.85 461.7 314.9 464.2 C315.95 466.7 317.45 470.78 318.7 473.6 C319.95 476.42 320.95 479.03 322.4 481.1 C323.85 483.17 325.73 484.77 327.4 486 C329.07 487.23 330.53 487.8 332.4 488.5 C334.27 489.2 336.5 489.85 338.6 490.2 C340.7 490.55 343.93 490.53 345 490.6" fill="none" stroke="#2c527c" stroke-width="1.25" stroke-linejoin="round" stroke-linecap="round"/>
<path d="M283.7 490.4 C284.23 489.98 285.95 489.67 286.9 487.9 C287.85 486.13 288.58 483.85 289.4 479.8 C290.22 475.75 290.98 469.42 291.8 463.6 C292.62 457.78 293.57 450.52 294.3 444.9 C295.03 439.28 295.57 434.27 296.2 429.9 C296.83 425.53 297.58 421.2 298.1 418.7 C298.62 416.2 298.58 415.53 299.3 414.9 C300.02 414.27 301.57 414.05 302.4 414.9 C303.23 415.75 303.57 417.5 304.3 420 C305.03 422.5 305.97 426.37 306.8 429.9 C307.63 433.43 308.47 437.45 309.3 441.2 C310.13 444.95 310.87 448.67 311.8 452.4 C312.73 456.13 313.75 460.07 314.9 463.6 C316.05 467.13 317.45 470.68 318.7 473.6 C319.95 476.52 320.95 479.03 322.4 481.1 C323.85 483.17 325.73 484.77 327.4 486 C329.07 487.23 330.53 487.8 332.4 488.5 C334.27 489.2 336.5 489.85 338.6 490.2 C340.7 490.55 343.93 490.53 345 490.6" fill="none" stroke="#5e4128" stroke-width="1.25" stroke-linejoin="round" stroke-linecap="round"/>
<text x="310.79" y="423.3" font-size="7.4" textLength="61.37" lengthAdjust="spacingAndGlyphs" fill="#7a5b3c" stroke="#7a5b3c" stroke-width="0.2">MOFs + TF (5 pM)</text>
<text x="320.44" y="458.9" font-size="7.4" textLength="31.1" lengthAdjust="spacingAndGlyphs" fill="#3b5f8a" stroke="#3b5f8a" stroke-width="0.2">TF (5 pM)</text>
<text x="422.11" y="481.4" font-size="7" textLength="19.65" lengthAdjust="spacingAndGlyphs" fill="#b3284b" stroke="#b3284b" stroke-width="0.2">MOFs</text>
<line x1="48.9" y1="544.6" x2="48.9" y2="661.5" stroke="#1e1e1e" stroke-width="1.3"/>
<line x1="45.3" y1="546.9" x2="48.9" y2="546.9" stroke="#1e1e1e" stroke-width="1.3"/>
<text x="35.79" y="549.93" font-size="8.8" textLength="5.33" lengthAdjust="spacingAndGlyphs" fill="#231f20" stroke="#231f20" stroke-width="0.2">6</text>
<line x1="45.3" y1="585.3" x2="48.9" y2="585.3" stroke="#1e1e1e" stroke-width="1.3"/>
<text x="35.65" y="588.33" font-size="8.8" textLength="5.33" lengthAdjust="spacingAndGlyphs" fill="#231f20" stroke="#231f20" stroke-width="0.2">4</text>
<line x1="45.3" y1="623.1" x2="48.9" y2="623.1" stroke="#1e1e1e" stroke-width="1.3"/>
<text x="35.85" y="626.13" font-size="8.8" textLength="5.33" lengthAdjust="spacingAndGlyphs" fill="#231f20" stroke="#231f20" stroke-width="0.2">2</text>
<line x1="45.3" y1="661.5" x2="48.9" y2="661.5" stroke="#1e1e1e" stroke-width="1.3"/>
<text x="35.74" y="664.53" font-size="8.8" textLength="5.33" lengthAdjust="spacingAndGlyphs" fill="#231f20" stroke="#231f20" stroke-width="0.2">0</text>
<line x1="43.9" y1="661.5" x2="163.9" y2="661.5" stroke="#1e1e1e" stroke-width="1.3"/>
<text transform="translate(28.6 628.04) rotate(-90)" x="0" y="0" font-size="10.3" textLength="29.78" lengthAdjust="spacingAndGlyphs" fill="#231f20" stroke="#231f20" stroke-width="0.38">Lag time</text>
<text transform="translate(28.6 594.58) rotate(-90)" x="0" y="0" font-size="10.3" textLength="17.77" lengthAdjust="spacingAndGlyphs" fill="#231f20" stroke="#231f20" stroke-width="0.38">(min)</text>
<rect x="84.9" y="585.5" width="12.6" height="76" fill="#0b4a86"/>
<rect x="85.25" y="585.85" width="11.9" height="75.65" fill="none" stroke="#123b66" stroke-width="0.7"/>
<line x1="91.2" y1="585.5" x2="91.2" y2="578.2" stroke="#2e2e2e" stroke-width="0.9"/>
<line x1="89.3" y1="578.2" x2="93.1" y2="578.2" stroke="#2e2e2e" stroke-width="0.9"/>
<circle cx="91.4" cy="572.2" r="1.95" fill="#fff" stroke="#262626" stroke-width="0.9"/>
<circle cx="86.2" cy="585.1" r="1.95" fill="#fff" stroke="#262626" stroke-width="0.9"/>
<circle cx="91.1" cy="585.1" r="1.95" fill="#fff" stroke="#262626" stroke-width="0.9"/>
<circle cx="95.8" cy="585.1" r="1.95" fill="#fff" stroke="#262626" stroke-width="0.9"/>
<rect x="99.2" y="585.5" width="12.7" height="76" fill="#0b4a86"/>
<rect x="99.55" y="585.85" width="12" height="75.65" fill="none" stroke="#123b66" stroke-width="0.7"/>
<circle cx="105.6" cy="578" r="1.95" fill="#fff" stroke="#262626" stroke-width="0.9"/>
<circle cx="101" cy="585.1" r="1.95" fill="#fff" stroke="#262626" stroke-width="0.9"/>
<circle cx="105.6" cy="585.1" r="1.95" fill="#fff" stroke="#262626" stroke-width="0.9"/>
<circle cx="110.5" cy="585.1" r="1.95" fill="#fff" stroke="#262626" stroke-width="0.9"/>
<rect x="129" y="623.6" width="12.6" height="37.9" fill="#0b4a86"/>
<rect x="129.35" y="623.95" width="11.9" height="37.55" fill="none" stroke="#123b66" stroke-width="0.7"/>
<circle cx="130.4" cy="623.2" r="1.95" fill="#fff" stroke="#262626" stroke-width="0.9"/>
<circle cx="133.8" cy="623.2" r="1.95" fill="#fff" stroke="#262626" stroke-width="0.9"/>
<circle cx="137.3" cy="623.2" r="1.95" fill="#fff" stroke="#262626" stroke-width="0.9"/>
<circle cx="140.4" cy="623.2" r="1.95" fill="#fff" stroke="#262626" stroke-width="0.9"/>
<rect x="143.9" y="623.6" width="12.8" height="37.9" fill="#0b4a86"/>
<rect x="144.25" y="623.95" width="12.1" height="37.55" fill="none" stroke="#123b66" stroke-width="0.7"/>
<circle cx="145.1" cy="623.2" r="1.95" fill="#fff" stroke="#262626" stroke-width="0.9"/>
<circle cx="149.1" cy="623.2" r="1.95" fill="#fff" stroke="#262626" stroke-width="0.9"/>
<circle cx="152.5" cy="623.2" r="1.95" fill="#fff" stroke="#262626" stroke-width="0.9"/>
<circle cx="155.8" cy="623.2" r="1.95" fill="#fff" stroke="#262626" stroke-width="0.9"/>
<text x="85.77" y="563.7" font-size="7.5" textLength="24.38" lengthAdjust="spacingAndGlyphs" fill="#231f20" stroke="#231f20" stroke-width="0.2"><tspan font-style="italic">P</tspan> = NS</text>
<line x1="86.2" y1="566.8" x2="109.3" y2="566.8" stroke="#222" stroke-width="1.25"/>
<text x="130.07" y="610.5" font-size="7.5" textLength="24.28" lengthAdjust="spacingAndGlyphs" fill="#231f20" stroke="#231f20" stroke-width="0.2"><tspan font-style="italic">P</tspan> = NS</text>
<line x1="130.7" y1="613.2" x2="153.7" y2="613.2" stroke="#222" stroke-width="1.25"/>
<text transform="translate(59.8 655.61) rotate(-90)" x="0" y="0" font-size="6.6" textLength="75.08" lengthAdjust="spacingAndGlyphs" fill="#3a3a3a" stroke="#3a3a3a" stroke-width="0.02">No significant thrombin</text>
<text transform="translate(69.6 655.31) rotate(-90)" x="0" y="0" font-size="6.6" textLength="65.79" lengthAdjust="spacingAndGlyphs" fill="#3a3a3a" stroke="#3a3a3a" stroke-width="0.02">generation detected</text>
<text transform="translate(44.62 689.58) rotate(-45)" x="0" y="0" font-size="8.9" textLength="25.92" lengthAdjust="spacingAndGlyphs" fill="#231f20" stroke="#231f20" stroke-width="0.2">MOFs</text>
<text transform="translate(66.44 698.76) rotate(-45)" x="0" y="0" font-size="8.9" textLength="39.15" lengthAdjust="spacingAndGlyphs" fill="#231f20" stroke="#231f20" stroke-width="0.2">TF (1pM)</text>
<text transform="translate(59.18 721.02) rotate(-45)" x="0" y="0" font-size="8.9" textLength="70.63" lengthAdjust="spacingAndGlyphs" fill="#231f20" stroke="#231f20" stroke-width="0.2">MOFs+TF (1pM)</text>
<text transform="translate(110.74 698.76) rotate(-45)" x="0" y="0" font-size="8.9" textLength="39.15" lengthAdjust="spacingAndGlyphs" fill="#231f20" stroke="#231f20" stroke-width="0.2">TF (5pM)</text>
<text transform="translate(103.48 721.02) rotate(-45)" x="0" y="0" font-size="8.9" textLength="70.63" lengthAdjust="spacingAndGlyphs" fill="#231f20" stroke="#231f20" stroke-width="0.2">MOFs+TF (5pM)</text>
<line x1="221.5" y1="543.1" x2="221.5" y2="661.5" stroke="#1e1e1e" stroke-width="1.3"/>
<line x1="217.9" y1="546.9" x2="221.5" y2="546.9" stroke="#1e1e1e" stroke-width="1.3"/>
<text x="198.97" y="549.93" font-size="8.8" textLength="16" lengthAdjust="spacingAndGlyphs" fill="#231f20" stroke="#231f20" stroke-width="0.2">400</text>
<line x1="217.9" y1="575.6" x2="221.5" y2="575.6" stroke="#1e1e1e" stroke-width="1.3"/>
<text x="198.97" y="578.63" font-size="8.8" textLength="16" lengthAdjust="spacingAndGlyphs" fill="#231f20" stroke="#231f20" stroke-width="0.2">300</text>
<line x1="217.9" y1="604.3" x2="221.5" y2="604.3" stroke="#1e1e1e" stroke-width="1.3"/>
<text x="198.97" y="607.33" font-size="8.8" textLength="16" lengthAdjust="spacingAndGlyphs" fill="#231f20" stroke="#231f20" stroke-width="0.2">200</text>
<line x1="217.9" y1="633" x2="221.5" y2="633" stroke="#1e1e1e" stroke-width="1.3"/>
<text x="198.97" y="636.03" font-size="8.8" textLength="16" lengthAdjust="spacingAndGlyphs" fill="#231f20" stroke="#231f20" stroke-width="0.2">100</text>
<line x1="217.9" y1="661.7" x2="221.5" y2="661.7" stroke="#1e1e1e" stroke-width="1.3"/>
<text x="209.64" y="664.73" font-size="8.8" textLength="5.33" lengthAdjust="spacingAndGlyphs" fill="#231f20" stroke="#231f20" stroke-width="0.2">0</text>
<line x1="221.5" y1="661.5" x2="338" y2="661.5" stroke="#1e1e1e" stroke-width="1.3"/>
<text transform="translate(190.7 636.98) rotate(-90)" x="0" y="0" font-size="10.2" textLength="45.64" lengthAdjust="spacingAndGlyphs" fill="#231f20" stroke="#231f20" stroke-width="0.38">Peak thrombin</text>
<text transform="translate(190.7 587.9) rotate(-90)" x="0" y="0" font-size="10.2" textLength="24.81" lengthAdjust="spacingAndGlyphs" fill="#231f20" stroke="#231f20" stroke-width="0.38">(nM/ L)</text>
<circle cx="230.5" cy="661" r="1.95" fill="#fff" stroke="#262626" stroke-width="0.9"/>
<circle cx="233.8" cy="661" r="1.95" fill="#fff" stroke="#262626" stroke-width="0.9"/>
<circle cx="237" cy="661" r="1.95" fill="#fff" stroke="#262626" stroke-width="0.9"/>
<circle cx="240.2" cy="661" r="1.95" fill="#fff" stroke="#262626" stroke-width="0.9"/>
<rect x="258" y="640.5" width="13.25" height="21" fill="#0b4a86"/>
<rect x="258.35" y="640.85" width="12.55" height="20.65" fill="none" stroke="#123b66" stroke-width="0.7"/>
<circle cx="260" cy="639.3" r="1.95" fill="#fff" stroke="#262626" stroke-width="0.9"/>
<circle cx="265" cy="639.3" r="1.95" fill="#fff" stroke="#262626" stroke-width="0.9"/>
<circle cx="269.5" cy="639.3" r="1.95" fill="#fff" stroke="#262626" stroke-width="0.9"/>
<circle cx="265" cy="646.3" r="1.95" fill="#fff" stroke="#262626" stroke-width="0.9"/>
<rect x="273.25" y="639.5" width="13" height="22" fill="#0b4a86"/>
<rect x="273.6" y="639.85" width="12.3" height="21.65" fill="none" stroke="#123b66" stroke-width="0.7"/>
<line x1="279.75" y1="639.5" x2="279.75" y2="635" stroke="#2e2e2e" stroke-width="0.9"/>
<line x1="277.85" y1="635" x2="281.65" y2="635" stroke="#2e2e2e" stroke-width="0.9"/>
<circle cx="279.5" cy="628.8" r="1.95" fill="#fff" stroke="#262626" stroke-width="0.9"/>
<circle cx="275.5" cy="639.3" r="1.95" fill="#fff" stroke="#262626" stroke-width="0.9"/>
<circle cx="284.5" cy="639.3" r="1.95" fill="#fff" stroke="#262626" stroke-width="0.9"/>
<circle cx="279.5" cy="654.3" r="1.95" fill="#fff" stroke="#262626" stroke-width="0.9"/>
<rect x="303" y="602.5" width="12" height="59" fill="#0b4a86"/>
<rect x="303.35" y="602.85" width="11.3" height="58.65" fill="none" stroke="#123b66" stroke-width="0.7"/>
<line x1="309" y1="602.5" x2="309" y2="598.3" stroke="#2e2e2e" stroke-width="0.9"/>
<line x1="307.1" y1="598.3" x2="310.9" y2="598.3" stroke="#2e2e2e" stroke-width="0.9"/>
<circle cx="304.5" cy="595" r="1.95" fill="#fff" stroke="#262626" stroke-width="0.9"/>
<circle cx="313.3" cy="593" r="1.95" fill="#fff" stroke="#262626" stroke-width="0.9"/>
<circle cx="308.8" cy="605" r="1.95" fill="#fff" stroke="#262626" stroke-width="0.9"/>
<circle cx="308.8" cy="613.3" r="1.95" fill="#fff" stroke="#262626" stroke-width="0.9"/>
<rect x="316.75" y="573.3" width="12.75" height="88.2" fill="#0b4a86"/>
<rect x="317.1" y="573.65" width="12.05" height="87.85" fill="none" stroke="#123b66" stroke-width="0.7"/>
<line x1="323.12" y1="573.3" x2="323.12" y2="568.8" stroke="#2e2e2e" stroke-width="0.9"/>
<line x1="321.23" y1="568.8" x2="325.02" y2="568.8" stroke="#2e2e2e" stroke-width="0.9"/>
<circle cx="323.6" cy="560.6" r="1.95" fill="#fff" stroke="#262626" stroke-width="0.9"/>
<circle cx="319.4" cy="574.1" r="1.95" fill="#fff" stroke="#262626" stroke-width="0.9"/>
<circle cx="328.1" cy="576.2" r="1.95" fill="#fff" stroke="#262626" stroke-width="0.9"/>
<circle cx="319.4" cy="579.8" r="1.95" fill="#fff" stroke="#262626" stroke-width="0.9"/>
<text x="259.57" y="616.2" font-size="7.5" textLength="24.28" lengthAdjust="spacingAndGlyphs" fill="#231f20" stroke="#231f20" stroke-width="0.2"><tspan font-style="italic">P</tspan> = NS</text>
<line x1="259.5" y1="619.5" x2="283" y2="619.5" stroke="#222" stroke-width="1.25"/>
<text x="302.07" y="550" font-size="7.5" textLength="28.45" lengthAdjust="spacingAndGlyphs" fill="#231f20" stroke="#231f20" stroke-width="0.2"><tspan font-style="italic">P</tspan> &lt; .005</text>
<line x1="305" y1="552.5" x2="328.8" y2="552.5" stroke="#222" stroke-width="1.25"/>
<text transform="translate(219.62 690.38) rotate(-45)" x="0" y="0" font-size="8.9" textLength="25.92" lengthAdjust="spacingAndGlyphs" fill="#231f20" stroke="#231f20" stroke-width="0.2">MOFs</text>
<text transform="translate(239.94 699.56) rotate(-45)" x="0" y="0" font-size="8.9" textLength="39.15" lengthAdjust="spacingAndGlyphs" fill="#231f20" stroke="#231f20" stroke-width="0.2">TF (1pM)</text>
<text transform="translate(232.58 721.82) rotate(-45)" x="0" y="0" font-size="8.9" textLength="70.63" lengthAdjust="spacingAndGlyphs" fill="#231f20" stroke="#231f20" stroke-width="0.2">MOFs+TF (1pM)</text>
<text transform="translate(283.44 698.76) rotate(-45)" x="0" y="0" font-size="8.9" textLength="39.15" lengthAdjust="spacingAndGlyphs" fill="#231f20" stroke="#231f20" stroke-width="0.2">TF (5pM)</text>
<text transform="translate(275.18 721.02) rotate(-45)" x="0" y="0" font-size="8.9" textLength="70.63" lengthAdjust="spacingAndGlyphs" fill="#231f20" stroke="#231f20" stroke-width="0.2">MOFs+TF (5pM)</text>
<line x1="400.7" y1="543.1" x2="400.7" y2="661.4" stroke="#1e1e1e" stroke-width="1.3"/>
<line x1="397.1" y1="546.5" x2="400.7" y2="546.5" stroke="#1e1e1e" stroke-width="1.3"/>
<text x="371.74" y="549.53" font-size="8.8" textLength="21.34" lengthAdjust="spacingAndGlyphs" fill="#231f20" stroke="#231f20" stroke-width="0.2">3000</text>
<line x1="397.1" y1="565.6" x2="400.7" y2="565.6" stroke="#1e1e1e" stroke-width="1.3"/>
<text x="371.74" y="568.63" font-size="8.8" textLength="21.34" lengthAdjust="spacingAndGlyphs" fill="#231f20" stroke="#231f20" stroke-width="0.2">2500</text>
<line x1="397.1" y1="584.7" x2="400.7" y2="584.7" stroke="#1e1e1e" stroke-width="1.3"/>
<text x="371.74" y="587.73" font-size="8.8" textLength="21.34" lengthAdjust="spacingAndGlyphs" fill="#231f20" stroke="#231f20" stroke-width="0.2">2000</text>
<line x1="397.1" y1="603.8" x2="400.7" y2="603.8" stroke="#1e1e1e" stroke-width="1.3"/>
<text x="371.74" y="606.83" font-size="8.8" textLength="21.34" lengthAdjust="spacingAndGlyphs" fill="#231f20" stroke="#231f20" stroke-width="0.2">1500</text>
<line x1="397.1" y1="622.9" x2="400.7" y2="622.9" stroke="#1e1e1e" stroke-width="1.3"/>
<text x="371.74" y="625.93" font-size="8.8" textLength="21.34" lengthAdjust="spacingAndGlyphs" fill="#231f20" stroke="#231f20" stroke-width="0.2">1000</text>
<line x1="397.1" y1="642" x2="400.7" y2="642" stroke="#1e1e1e" stroke-width="1.3"/>
<text x="377.07" y="645.03" font-size="8.8" textLength="16" lengthAdjust="spacingAndGlyphs" fill="#231f20" stroke="#231f20" stroke-width="0.2">500</text>
<line x1="397.1" y1="661.1" x2="400.7" y2="661.1" stroke="#1e1e1e" stroke-width="1.3"/>
<text x="387.74" y="664.13" font-size="8.8" textLength="5.33" lengthAdjust="spacingAndGlyphs" fill="#231f20" stroke="#231f20" stroke-width="0.2">0</text>
<line x1="400.7" y1="661.4" x2="511" y2="661.4" stroke="#1e1e1e" stroke-width="1.3"/>
<text transform="translate(364.3 630.67) rotate(-90)" x="0" y="0" font-size="10.2" textLength="13.43" lengthAdjust="spacingAndGlyphs" fill="#231f20" stroke="#231f20" stroke-width="0.38">ETP</text>
<text transform="translate(364.3 613.69) rotate(-90)" x="0" y="0" font-size="10.2" textLength="39.48" lengthAdjust="spacingAndGlyphs" fill="#231f20" stroke="#231f20" stroke-width="0.38">(nM/ L-min)</text>
<circle cx="409.9" cy="661" r="1.95" fill="#fff" stroke="#262626" stroke-width="0.9"/>
<circle cx="413" cy="661" r="1.95" fill="#fff" stroke="#262626" stroke-width="0.9"/>
<circle cx="415.9" cy="661" r="1.95" fill="#fff" stroke="#262626" stroke-width="0.9"/>
<circle cx="418.3" cy="661" r="1.95" fill="#fff" stroke="#262626" stroke-width="0.9"/>
<rect x="437.5" y="630.3" width="12.3" height="31.1" fill="#0b4a86"/>
<rect x="437.85" y="630.65" width="11.6" height="30.75" fill="none" stroke="#123b66" stroke-width="0.7"/>
<circle cx="438.8" cy="625.5" r="1.95" fill="#fff" stroke="#262626" stroke-width="0.9"/>
<circle cx="443.1" cy="627.9" r="1.95" fill="#fff" stroke="#262626" stroke-width="0.9"/>
<circle cx="447.4" cy="627.9" r="1.95" fill="#fff" stroke="#262626" stroke-width="0.9"/>
<circle cx="443.1" cy="636.3" r="1.95" fill="#fff" stroke="#262626" stroke-width="0.9"/>
<rect x="452" y="632" width="12.2" height="29.4" fill="#0b4a86"/>
<rect x="452.35" y="632.35" width="11.5" height="29.05" fill="none" stroke="#123b66" stroke-width="0.7"/>
<line x1="458.1" y1="632" x2="458.1" y2="624.3" stroke="#2e2e2e" stroke-width="0.9"/>
<line x1="456.2" y1="624.3" x2="460" y2="624.3" stroke="#2e2e2e" stroke-width="0.9"/>
<circle cx="458" cy="620" r="1.95" fill="#fff" stroke="#262626" stroke-width="0.9"/>
<circle cx="453.2" cy="625.5" r="1.95" fill="#fff" stroke="#262626" stroke-width="0.9"/>
<circle cx="462.8" cy="628.7" r="1.95" fill="#fff" stroke="#262626" stroke-width="0.9"/>
<circle cx="458" cy="650.8" r="1.95" fill="#fff" stroke="#262626" stroke-width="0.9"/>
<rect x="481.5" y="601.5" width="12.1" height="59.9" fill="#0b4a86"/>
<rect x="481.85" y="601.85" width="11.4" height="59.55" fill="none" stroke="#123b66" stroke-width="0.7"/>
<line x1="487.55" y1="601.5" x2="487.55" y2="596.2" stroke="#2e2e2e" stroke-width="0.9"/>
<line x1="485.65" y1="596.2" x2="489.45" y2="596.2" stroke="#2e2e2e" stroke-width="0.9"/>
<circle cx="482.7" cy="594.3" r="1.95" fill="#fff" stroke="#262626" stroke-width="0.9"/>
<circle cx="491.9" cy="593.1" r="1.95" fill="#fff" stroke="#262626" stroke-width="0.9"/>
<circle cx="487.5" cy="603.4" r="1.95" fill="#fff" stroke="#262626" stroke-width="0.9"/>
<circle cx="487.5" cy="610.4" r="1.95" fill="#fff" stroke="#262626" stroke-width="0.9"/>
<rect x="496" y="578.7" width="12" height="82.7" fill="#0b4a86"/>
<rect x="496.35" y="579.05" width="11.3" height="82.35" fill="none" stroke="#123b66" stroke-width="0.7"/>
<line x1="502" y1="578.7" x2="502" y2="573.4" stroke="#2e2e2e" stroke-width="0.9"/>
<line x1="500.1" y1="573.4" x2="503.9" y2="573.4" stroke="#2e2e2e" stroke-width="0.9"/>
<circle cx="502.5" cy="563.8" r="1.95" fill="#fff" stroke="#262626" stroke-width="0.9"/>
<circle cx="497.9" cy="579.4" r="1.95" fill="#fff" stroke="#262626" stroke-width="0.9"/>
<circle cx="506.8" cy="580.6" r="1.95" fill="#fff" stroke="#262626" stroke-width="0.9"/>
<circle cx="502.5" cy="586.3" r="1.95" fill="#fff" stroke="#262626" stroke-width="0.9"/>
<text x="437.86" y="607.1" font-size="7.5" textLength="24.49" lengthAdjust="spacingAndGlyphs" fill="#231f20" stroke="#231f20" stroke-width="0.2"><tspan font-style="italic">P</tspan> = NS</text>
<line x1="438.3" y1="610.4" x2="461.8" y2="610.4" stroke="#222" stroke-width="1.25"/>
<text x="481.06" y="551.8" font-size="7.5" textLength="24.56" lengthAdjust="spacingAndGlyphs" fill="#231f20" stroke="#231f20" stroke-width="0.2"><tspan font-style="italic">P</tspan> &lt; .05</text>
<line x1="482" y1="555.8" x2="505.1" y2="555.8" stroke="#222" stroke-width="1.25"/>
<text transform="translate(398.12 689.58) rotate(-45)" x="0" y="0" font-size="8.9" textLength="25.92" lengthAdjust="spacingAndGlyphs" fill="#231f20" stroke="#231f20" stroke-width="0.2">MOFs</text>
<text transform="translate(418.44 698.76) rotate(-45)" x="0" y="0" font-size="8.9" textLength="39.15" lengthAdjust="spacingAndGlyphs" fill="#231f20" stroke="#231f20" stroke-width="0.2">TF (1pM)</text>
<text transform="translate(410.68 721.02) rotate(-45)" x="0" y="0" font-size="8.9" textLength="70.63" lengthAdjust="spacingAndGlyphs" fill="#231f20" stroke="#231f20" stroke-width="0.2">MOFs+TF (1pM)</text>
<text transform="translate(462.44 698.76) rotate(-45)" x="0" y="0" font-size="8.9" textLength="39.15" lengthAdjust="spacingAndGlyphs" fill="#231f20" stroke="#231f20" stroke-width="0.2">TF (5pM)</text>
<text transform="translate(454.68 721.02) rotate(-45)" x="0" y="0" font-size="8.9" textLength="70.63" lengthAdjust="spacingAndGlyphs" fill="#231f20" stroke="#231f20" stroke-width="0.2">MOFs+TF (5pM)</text>
</svg>
</body></html>
